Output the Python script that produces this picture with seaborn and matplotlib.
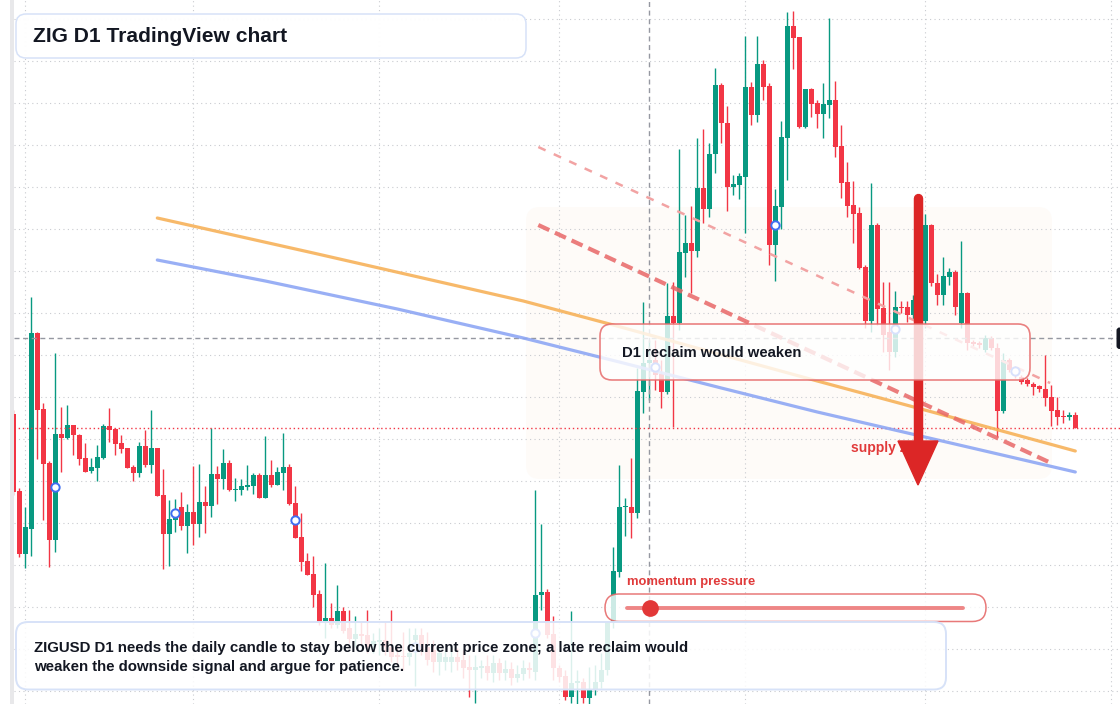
import numpy as np
import pandas as pd
import matplotlib
matplotlib.use("Agg")
import matplotlib.pyplot as plt
import seaborn as sns
from matplotlib.patches import FancyBboxPatch, Polygon, Rectangle
from matplotlib.lines import Line2D

# ---------------- data (ZIGUSD daily candles, price) ----------------
opens = [0.0586, 0.0509, 0.0446, 0.0471, 0.0667, 0.0591, 0.0537, 0.0460, 0.0566, 0.0562,
         0.0575, 0.0565, 0.0542, 0.0529, 0.0532, 0.0542, 0.0574, 0.0571, 0.0557, 0.0552,
         0.0533, 0.0527, 0.0554, 0.0535, 0.0552, 0.0505, 0.0466, 0.0480, 0.0493, 0.0474,
         0.0488, 0.0476, 0.0498, 0.0494, 0.0526, 0.0521, 0.0537, 0.0510, 0.0510, 0.0513,
         0.0514, 0.0525, 0.0502, 0.0525, 0.0515, 0.0527, 0.0533, 0.0497, 0.0463, 0.0439,
         0.0426, 0.0406, 0.0379, 0.0382, 0.0375, 0.0389, 0.0372, 0.0361, 0.0366, 0.0365,
         0.0355, 0.0358, 0.0360, 0.0353, 0.0345, 0.0344, 0.0343, 0.0360, 0.0365, 0.0353,
         0.0350, 0.0338, 0.0338, 0.0338, 0.0343, 0.0340, 0.0333, 0.0330, 0.0332, 0.0334,
         0.0327, 0.0337, 0.0327, 0.0331, 0.0322, 0.0326, 0.0332, 0.0328, 0.0405, 0.0408,
         0.0366, 0.0332, 0.0324, 0.0303, 0.0317, 0.0318, 0.0302, 0.0310, 0.0318, 0.0330,
         0.0378, 0.0428, 0.0493, 0.0493, 0.0487, 0.0608, 0.0637, 0.0640, 0.0626, 0.0608,
         0.0684, 0.0677, 0.0747, 0.0757, 0.0749, 0.0812, 0.0791, 0.0846, 0.0915, 0.0877,
         0.0813, 0.0815, 0.0823, 0.0913, 0.0885, 0.0936, 0.0914, 0.0755, 0.0793, 0.0862,
         0.0974, 0.0963, 0.0873, 0.0911, 0.0897, 0.0886, 0.0895, 0.0900, 0.0854, 0.0818,
         0.0795, 0.0787, 0.0733, 0.0679, 0.0775, 0.0692, 0.0668, 0.0648, 0.0693, 0.0693,
         0.0685, 0.0700, 0.0679, 0.0775, 0.0717, 0.0705, 0.0723, 0.0728, 0.0677, 0.0707,
         0.0658, 0.0657, 0.0650, 0.0662, 0.0652, 0.0589, 0.0640, 0.0632, 0.0623, 0.0620,
         0.0616, 0.0614, 0.0611, 0.0603, 0.0590, 0.0584, 0.0583, 0.0585]
highs = [0.0590, 0.0512, 0.0493, 0.0703, 0.0668, 0.0597, 0.0539, 0.0647, 0.0593, 0.0595,
         0.0575, 0.0566, 0.0557, 0.0542, 0.0555, 0.0576, 0.0592, 0.0572, 0.0565, 0.0552,
         0.0535, 0.0558, 0.0570, 0.0590, 0.0552, 0.0531, 0.0500, 0.0501, 0.0508, 0.0496,
         0.0534, 0.0536, 0.0514, 0.0572, 0.0534, 0.0551, 0.0540, 0.0522, 0.0521, 0.0535,
         0.0527, 0.0527, 0.0564, 0.0540, 0.0533, 0.0567, 0.0536, 0.0514, 0.0487, 0.0447,
         0.0444, 0.0410, 0.0437, 0.0397, 0.0415, 0.0393, 0.0390, 0.0384, 0.0378, 0.0390,
         0.0367, 0.0372, 0.0378, 0.0390, 0.0355, 0.0368, 0.0372, 0.0372, 0.0372, 0.0368,
         0.0360, 0.0352, 0.0350, 0.0355, 0.0352, 0.0350, 0.0345, 0.0345, 0.0340, 0.0345,
         0.0345, 0.0342, 0.0340, 0.0338, 0.0335, 0.0340, 0.0338, 0.0510, 0.0476, 0.0411,
         0.0384, 0.0335, 0.0330, 0.0389, 0.0330, 0.0322, 0.0333, 0.0335, 0.0347, 0.0350,
         0.0453, 0.0535, 0.0502, 0.0542, 0.0632, 0.0698, 0.0660, 0.0660, 0.0640, 0.0717,
         0.0718, 0.0851, 0.0785, 0.0794, 0.0862, 0.0871, 0.0857, 0.0932, 0.0917, 0.0894,
         0.0825, 0.0827, 0.0964, 0.0918, 0.0964, 0.0940, 0.0917, 0.0811, 0.0879, 0.0988,
         0.0989, 0.0963, 0.0911, 0.0912, 0.0900, 0.0917, 0.0982, 0.0919, 0.0875, 0.0838,
         0.0819, 0.0793, 0.0735, 0.0817, 0.0777, 0.0718, 0.0718, 0.0709, 0.0699, 0.0699,
         0.0705, 0.0712, 0.0786, 0.0776, 0.0726, 0.0743, 0.0732, 0.0730, 0.0759, 0.0708,
         0.0660, 0.0659, 0.0665, 0.0664, 0.0657, 0.0647, 0.0642, 0.0634, 0.0625, 0.0622,
         0.0618, 0.0615, 0.0645, 0.0615, 0.0603, 0.0590, 0.0588, 0.0588]
lows = [0.0505, 0.0443, 0.0432, 0.0444, 0.0541, 0.0480, 0.0433, 0.0448, 0.0528, 0.0561,
        0.0545, 0.0535, 0.0528, 0.0527, 0.0519, 0.0541, 0.0558, 0.0545, 0.0547, 0.0532,
        0.0519, 0.0523, 0.0533, 0.0527, 0.0504, 0.0431, 0.0434, 0.0468, 0.0470, 0.0447,
        0.0455, 0.0463, 0.0467, 0.0483, 0.0496, 0.0511, 0.0509, 0.0499, 0.0505, 0.0510,
        0.0506, 0.0502, 0.0502, 0.0513, 0.0515, 0.0510, 0.0495, 0.0462, 0.0429, 0.0425,
        0.0393, 0.0375, 0.0362, 0.0372, 0.0372, 0.0367, 0.0357, 0.0353, 0.0355, 0.0347,
        0.0347, 0.0345, 0.0345, 0.0338, 0.0335, 0.0330, 0.0335, 0.0314, 0.0345, 0.0335,
        0.0328, 0.0325, 0.0330, 0.0328, 0.0330, 0.0322, 0.0303, 0.0297, 0.0322, 0.0320,
        0.0318, 0.0320, 0.0320, 0.0315, 0.0318, 0.0320, 0.0322, 0.0320, 0.0390, 0.0362,
        0.0320, 0.0318, 0.0300, 0.0297, 0.0296, 0.0297, 0.0296, 0.0305, 0.0312, 0.0325,
        0.0372, 0.0423, 0.0464, 0.0462, 0.0482, 0.0587, 0.0600, 0.0610, 0.0592, 0.0606,
        0.0573, 0.0670, 0.0723, 0.0707, 0.0743, 0.0777, 0.0783, 0.0827, 0.0857, 0.0789,
        0.0805, 0.0801, 0.0767, 0.0875, 0.0878, 0.0900, 0.0735, 0.0719, 0.0771, 0.0820,
        0.0931, 0.0872, 0.0872, 0.0883, 0.0872, 0.0862, 0.0882, 0.0843, 0.0802, 0.0783,
        0.0757, 0.0731, 0.0672, 0.0668, 0.0675, 0.0648, 0.0630, 0.0643, 0.0687, 0.0678,
        0.0680, 0.0668, 0.0672, 0.0714, 0.0695, 0.0695, 0.0715, 0.0685, 0.0672, 0.0650,
        0.0654, 0.0652, 0.0648, 0.0650, 0.0563, 0.0587, 0.0628, 0.0622, 0.0616, 0.0614,
        0.0605, 0.0608, 0.0594, 0.0574, 0.0575, 0.0577, 0.0580, 0.0572]
closes = [0.0508, 0.0446, 0.0473, 0.0667, 0.0590, 0.0536, 0.0460, 0.0566, 0.0562, 0.0575,
          0.0565, 0.0541, 0.0528, 0.0533, 0.0543, 0.0574, 0.0570, 0.0556, 0.0551, 0.0532,
          0.0527, 0.0554, 0.0535, 0.0552, 0.0504, 0.0466, 0.0481, 0.0482, 0.0474, 0.0488,
          0.0476, 0.0498, 0.0494, 0.0526, 0.0521, 0.0537, 0.0510, 0.0511, 0.0514, 0.0515,
          0.0525, 0.0502, 0.0525, 0.0515, 0.0528, 0.0533, 0.0496, 0.0462, 0.0438, 0.0425,
          0.0405, 0.0378, 0.0382, 0.0375, 0.0389, 0.0369, 0.0361, 0.0366, 0.0364, 0.0353,
          0.0359, 0.0360, 0.0353, 0.0343, 0.0343, 0.0343, 0.0347, 0.0365, 0.0350, 0.0340,
          0.0338, 0.0347, 0.0343, 0.0343, 0.0338, 0.0332, 0.0330, 0.0333, 0.0334, 0.0327,
          0.0337, 0.0327, 0.0331, 0.0322, 0.0326, 0.0332, 0.0330, 0.0405, 0.0408, 0.0365,
          0.0332, 0.0323, 0.0303, 0.0317, 0.0319, 0.0302, 0.0310, 0.0318, 0.0330, 0.0378,
          0.0429, 0.0493, 0.0494, 0.0487, 0.0609, 0.0637, 0.0640, 0.0625, 0.0608, 0.0684,
          0.0677, 0.0748, 0.0757, 0.0749, 0.0812, 0.0791, 0.0846, 0.0915, 0.0877, 0.0813,
          0.0816, 0.0824, 0.0913, 0.0885, 0.0936, 0.0913, 0.0755, 0.0794, 0.0863, 0.0974,
          0.0962, 0.0873, 0.0911, 0.0896, 0.0886, 0.0896, 0.0900, 0.0853, 0.0817, 0.0794,
          0.0786, 0.0732, 0.0679, 0.0775, 0.0691, 0.0665, 0.0648, 0.0693, 0.0692, 0.0685,
          0.0700, 0.0679, 0.0775, 0.0717, 0.0705, 0.0724, 0.0728, 0.0693, 0.0707, 0.0657,
          0.0656, 0.0655, 0.0662, 0.0652, 0.0589, 0.0640, 0.0630, 0.0625, 0.0618, 0.0616,
          0.0613, 0.0611, 0.0602, 0.0589, 0.0583, 0.0583, 0.0585, 0.0572]

# moving-average style overlays (candle index, price)
ma_orange_idx = [24, 50, 85, 100, 120, 134, 155, 177]
ma_orange_val = [0.0782, 0.0747, 0.0699, 0.0675, 0.0642, 0.0619, 0.0585, 0.0549]
ma_blue_idx = [24, 42, 64, 85, 101, 118, 134, 177]
ma_blue_val = [0.0740, 0.0719, 0.0691, 0.0662, 0.0638, 0.0612, 0.0588, 0.0528]

# signal markers every 20 bars
marker_idx = [7, 27, 47, 67, 87, 107, 127, 147, 167]
marker_val = [0.0513, 0.0487, 0.0480, 0.0353, 0.0367, 0.0633, 0.0775, 0.0671, 0.0629]

# trend lines (start/end: candle index, price)
trend_strong = [(87.5, 0.0775), (173.3, 0.0536)]
trend_light = [(87.5, 0.0853), (172.8, 0.0617)]

crosshair_idx = 106
crosshair_price = 0.0662
last_price = 0.0572
month_starts = [2, 30, 61, 91, 122, 152, 183]

title_text = "ZIG D1 TradingView chart"
box_text = "D1 reclaim would weaken"
zone_text = "supply zone"
gauge_text = "momentum pressure"
note_lines = ["ZIGUSD D1 needs the daily candle to stay below the current price zone; a late reclaim would",
              "weaken the downside signal and argue for patience."]

# ---------------- styling ----------------
sns.set_theme(style="white")
plt.rcParams['font.family'] = ['Liberation Sans', 'DejaVu Sans']

W, H = 1120, 704
X0, DX = 13.3, 6.0          # pixel x of bar 0, pixel spacing per bar
P0, DP = 0.1, 1e-4          # price at top edge, price per pixel
UP, DOWN = '#089981', '#f23645'
INK = '#131722'

fig = plt.figure(figsize=(W / 100, H / 100), dpi=100)
fig.patch.set_facecolor('white')
ax = fig.add_axes([0, 0, 1, 1])
ax.set_xlim((0 - X0) / DX, (W - X0) / DX)
ax.set_ylim(P0 - H * DP, P0)
ax.axis('off')

ov = fig.add_axes([0, 0, 1, 1], zorder=5)
ov.set_xlim(0, W)
ov.set_ylim(H, 0)
ov.axis('off')
ov.patch.set_alpha(0)


def xi(px):
    return (px - X0) / DX


def rbox(axis, x0, y0, x1, y1, r, transform=None, **kw):
    p = FancyBboxPatch((x0, y0), x1 - x0, y1 - y0,
                       boxstyle=f"round,pad=0,rounding_size={r}",
                       transform=transform if transform is not None else axis.transData, **kw)
    axis.add_patch(p)
    return p


# shaded zone (behind grid)
rbox(ax, 526, 207, 1052, 479, 14, transform=ov.transData, facecolor='#fefbf8',
     edgecolor='none', zorder=0.5)

# grid
grid_prices = [P0 - (19.3 + 42 * k) * DP for k in range(17)]
ax.hlines(grid_prices, xi(14), xi(W), colors='#c9cbd0', lw=0.8, linestyles=(0, (1, 3)), zorder=1)
ax.vlines(month_starts, P0 - H * DP, P0, colors='#c9cbd0', lw=0.8, linestyles=(0, (1, 3)), zorder=1)

# candles
df = pd.DataFrame({'i': np.arange(len(opens)), 'o': opens, 'h': highs, 'l': lows, 'c': closes})
cols = np.where(df.c >= df.o, UP, DOWN)
ax.vlines(df.i, df.l, df.h, colors=cols, lw=1.0, zorder=3)
body = (df.c - df.o).abs().clip(lower=1.2e-4)
ax.bar(df.i, body, bottom=np.minimum(df.o, df.c), width=0.78, color=cols, linewidth=0, zorder=3.1)

# crosshair and last price line
ax.hlines(crosshair_price, xi(14), xi(W), colors='#9598a1', lw=1.0, linestyles=(0, (3.6, 2.6)), zorder=3.5)
ax.vlines(crosshair_idx, P0 - H * DP, P0, colors='#9598a1', lw=1.0, linestyles=(0, (3.6, 2.6)), zorder=3.5)
ax.hlines(last_price, xi(14), xi(W), colors=DOWN, lw=1.0, linestyles=(0, (1, 2)), zorder=3.5)

# moving averages
sns.lineplot(x=ma_orange_idx, y=ma_orange_val, ax=ax, color='#f7b25a', lw=2.3, alpha=0.9, zorder=4)
sns.lineplot(x=ma_blue_idx, y=ma_blue_val, ax=ax, color='#8ea7f4', lw=2.3, alpha=0.9, zorder=4)

# trend lines
ax.plot([p[0] for p in trend_light], [p[1] for p in trend_light], color='#f2a3a3', lw=1.8,
        ls=(0, (3.2, 3.6)), zorder=4.2)
ax.plot([p[0] for p in trend_strong], [p[1] for p in trend_strong], color='#e86767', lw=3.0,
        ls=(0, (2.9, 1.5)), alpha=0.85, zorder=4.2)

# markers
sns.scatterplot(x=marker_idx, y=marker_val, ax=ax, s=36, facecolor='white', edgecolor='#3f6ef2',
                linewidth=1.4, zorder=5, legend=False)

# ---------------- overlay annotations (pixel space) ----------------
# supply zone label and arrow
ov.text(851, 448, zone_text, color='#e13a3a', fontsize=10, fontweight='bold', va='center', ha='left', zorder=2)
ov.add_line(Line2D([918, 918], [198, 446], color='#dc2626', lw=6.8, solid_capstyle='round', zorder=3))
ov.add_patch(Polygon([(898, 441), (938, 441), (918, 485)], closed=True, color='#dc2626', zorder=3))

# D1 reclaim box
rbox(ov, 600, 324, 1030, 380, 12, facecolor=(1, 1, 1, 0.8), edgecolor=(0.9, 0.42, 0.42, 0.85), lw=1.2, zorder=4)
ov.text(622, 353, box_text, color=INK, fontsize=10.7, fontweight='bold', va='center', ha='left', zorder=5)

# momentum gauge
ov.text(627, 582.5, gauge_text, color='#e03b3b', fontsize=9.4, fontweight='bold', va='center', ha='left', zorder=5)
rbox(ov, 605, 594, 986, 621.5, 13.7, facecolor=(1, 1, 1, 0.8), edgecolor=(0.9, 0.42, 0.42, 0.9), lw=1.1, zorder=4)
ov.add_line(Line2D([627, 963], [607.7, 607.7], color='#ee8686', lw=2.8, zorder=5))
ov.scatter([650], [607.7], s=145, color='#e23838', zorder=6, linewidths=0)

# title box
rbox(ov, 16, 14, 526, 58, 10, facecolor=(1, 1, 1, 0.97), edgecolor='#d7e2f8', lw=1.1, zorder=4)
ov.text(33, 36.5, title_text, color=INK, fontsize=15.1, fontweight='bold', va='center', ha='left', zorder=5)

# bottom note box
rbox(ov, 16, 622, 946, 689.5, 12, facecolor=(1, 1, 1, 0.86), edgecolor='#d7e2f8', lw=1.4, zorder=4)
ov.text(34, 648, note_lines[0], color=INK, fontsize=10.8, fontweight='bold', va='center', ha='left', zorder=5)
ov.text(34, 667, note_lines[1], color=INK, fontsize=10.8, fontweight='bold', va='center', ha='left', zorder=5)

# left price-scale strip and right price tag
ov.add_patch(Rectangle((10, 0), 4, H, facecolor='#e8e8ea', edgecolor='none', zorder=6))
rbox(ov, 1116.5, 327.5, 1126, 349, 3, facecolor='#131722', edgecolor='none', zorder=6)

fig.savefig('out.png', dpi=100, facecolor='white')
